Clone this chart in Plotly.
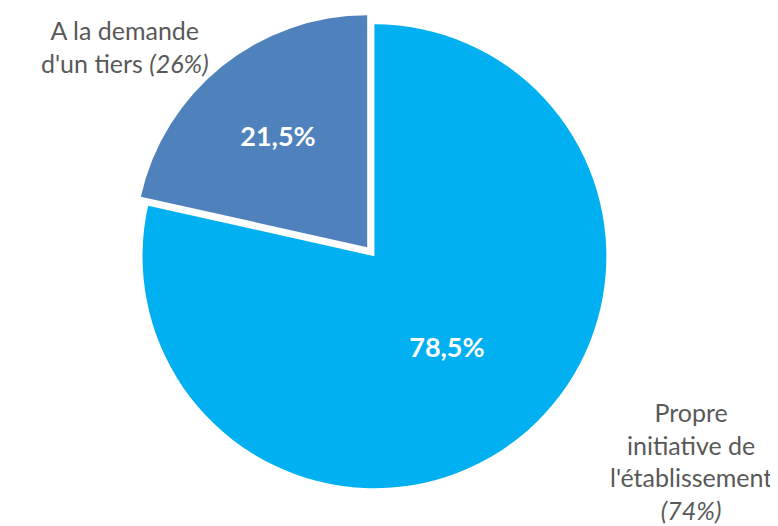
import plotly.graph_objects as go

# Slice data
labels = ["Propre initiative de l'établissement", "A la demande d'un tiers"]
values = [78.5, 21.5]
value_text = ["78,5%", "21,5%"]
colors = ["#00B0F0", "#4F81BD"]
pulls = [0, 0.05]

fig = go.Figure(go.Pie(
    labels=labels,
    values=values,
    text=value_text,
    texttemplate="<b>%{text}</b>",
    textposition="inside",
    insidetextorientation="horizontal",
    textfont=dict(family="Lato", size=27, color="white"),
    marker=dict(colors=colors, line=dict(color="white", width=0)),
    pull=pulls,
    sort=False,
    direction="clockwise",
    rotation=0,
    hole=0,
    domain=dict(x=[0.158, 0.784], y=[0.065, 0.991]),
    showlegend=False,
))

label_font = dict(family="Lato", size=25, color="#595959")
fig.add_annotation(
    text="A la demande<br>d'un tiers <i>(26%)</i>",
    x=117, y=38, xref="x", yref="y", showarrow=False, font=label_font, align="center",
)
fig.add_annotation(
    text="Propre<br>initiative de<br>l'établissement<br><i>(74%)</i>",
    x=683, y=453, xref="x", yref="y", showarrow=False, font=label_font, align="center",
)

fig.update_layout(
    width=778, height=526,
    margin=dict(l=0, r=0, t=0, b=0),
    paper_bgcolor="white",
    plot_bgcolor="rgba(0,0,0,0)",
    xaxis=dict(range=[0, 778], visible=False, fixedrange=True),
    yaxis=dict(range=[526, 0], visible=False, fixedrange=True),
)

fig.write_html("out.html")
